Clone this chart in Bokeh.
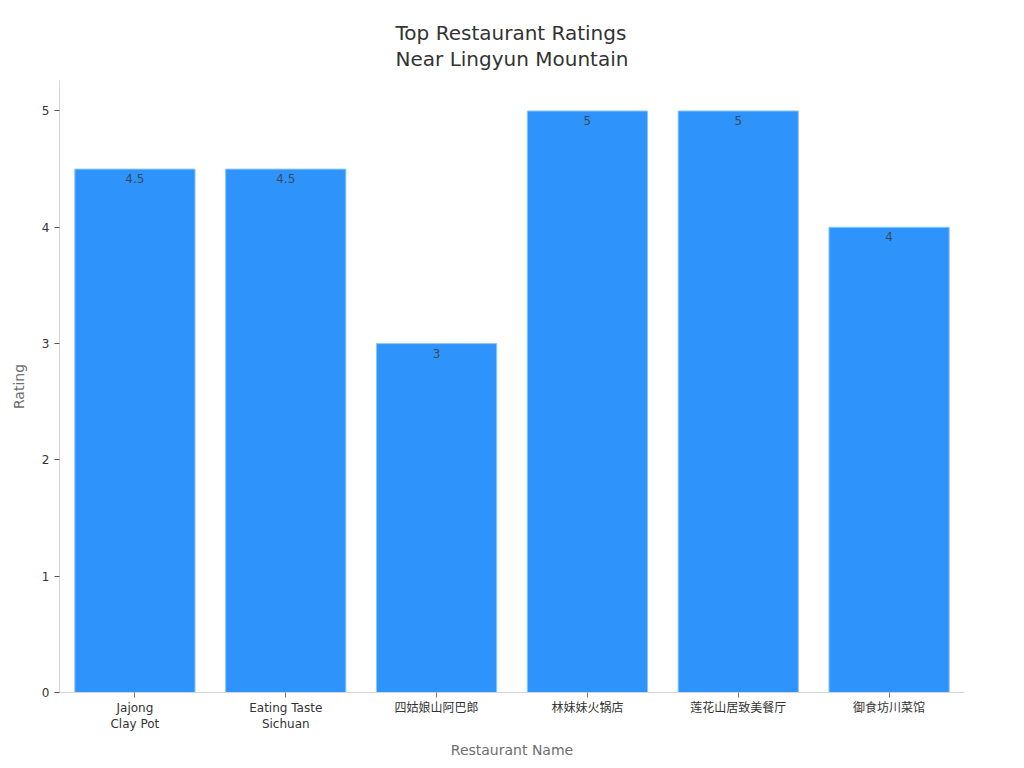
from bokeh.plotting import figure
from bokeh.models import ColumnDataSource, FactorRange, Range1d, LabelSet, FixedTicker
from bokeh.core.properties import value
from bokeh.embed import file_html
from bokeh.resources import INLINE

names = ["Jajong\nClay Pot", "Eating Taste\nSichuan", "四姑娘山阿巴郎", "林妹妹火锅店", "莲花山居致美餐厅", "御食坊川菜馆"]
ratings = [4.5, 4.5, 3, 5, 5, 4]
labels = ["4.5", "4.5", "3", "5", "5", "4"]
y_ticks = [0, 1, 2, 3, 4, 5]
title_text = "Top Restaurant Ratings\nNear Lingyun Mountain"

FONT = "'DejaVu Sans', 'Noto Sans CJK SC', sans-serif"

src = ColumnDataSource(dict(name=names, rating=ratings, label=labels))

p = figure(width=1008, height=761, output_backend="svg", toolbar_location=None,
           x_range=FactorRange(factors=names, range_padding=0, factor_padding=0),
           y_range=Range1d(0, 5.262),
           title=title_text,
           min_border_left=59, min_border_right=44, min_border_top=80, min_border_bottom=66)

p.vbar(x="name", top="rating", width=0.797, source=src,
       fill_color="#2E93FA", line_color="#8CC6FA", line_width=1)

p.add_layout(LabelSet(x="name", y="rating", text="label", source=src, y_offset=-5,
                      text_align="center", text_baseline="top", text_font_size="12px",
                      text_color="#3A4A5C", text_font=value(FONT)))

p.title.align = "center"
p.title.text_font = FONT
p.title.text_font_size = "20px"
p.title.text_font_style = "normal"
p.title.text_color = "#333333"
p.title.text_line_height = 1.09
p.title.standoff = 18

p.grid.visible = False
p.outline_line_color = None

p.xaxis.axis_label = "Restaurant Name"
p.yaxis.axis_label = "Rating"
for ax in (p.xaxis[0], p.yaxis[0]):
    ax.axis_label_text_font = FONT
    ax.axis_label_text_font_size = "14px"
    ax.axis_label_text_font_style = "normal"
    ax.axis_label_text_color = "#6E6E6E"
    ax.major_label_text_font = FONT
    ax.major_label_text_font_size = "12px"
    ax.major_label_text_color = "#333333"
    ax.axis_line_color = "#D4D4D4"
    ax.axis_line_width = 1
    ax.major_tick_in = 0
    ax.major_tick_out = 5
    ax.minor_tick_line_color = None
p.xaxis[0].major_tick_line_color = "#777777"
p.yaxis[0].major_tick_line_color = "#555555"
p.yaxis[0].ticker = FixedTicker(ticks=y_ticks)
p.yaxis[0].axis_label_standoff = 12
p.xaxis[0].axis_label_standoff = 8
p.xaxis[0].major_label_standoff = 3
p.xaxis.major_label_orientation = "horizontal"

open("out.html", "w").write(file_html(p, INLINE))
